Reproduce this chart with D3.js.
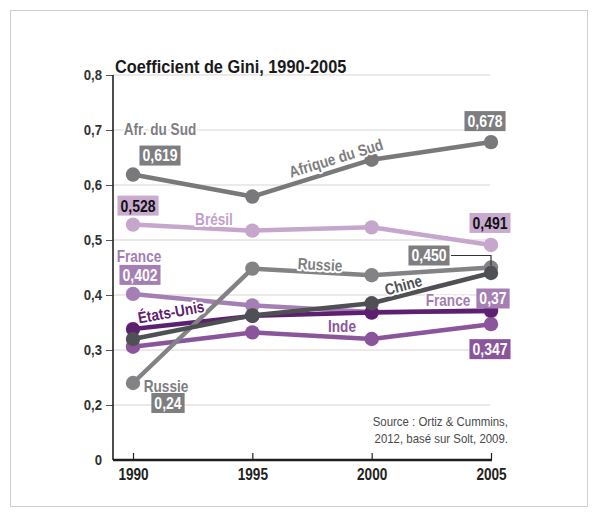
<!DOCTYPE html>
<html>
<head>
<meta charset="utf-8">
<script src="https://cdn.jsdelivr.net/npm/d3@7"></script>
<style>
  html, body { margin: 0; padding: 0; background: #fff; }
  svg { display: block; }
  text { font-family: 'Liberation Sans', Arial, Helvetica, sans-serif; }
</style>
</head>
<body>
<svg id="chart" width="597" height="515"></svg>
<script>
// Gini coefficient by country, 1990-2005
const years = [1990, 1995, 2000, 2005];
const afriqueDuSud = [0.619, 0.579, 0.646, 0.678];
const bresil = [0.528, 0.517, 0.523, 0.491];
const france = [0.402, 0.381, 0.369, 0.37];
const etatsUnis = [0.338, 0.362, 0.368, 0.372];
const inde = [0.306, 0.332, 0.320, 0.347];
const russie = [0.24, 0.448, 0.436, 0.450];
const chine = [0.320, 0.363, 0.385, 0.440];

// The vertical axis is broken: its lowest step is labelled 0
const yTickValues = [0.1, 0.2, 0.3, 0.4, 0.5, 0.6, 0.7, 0.8];
const yTickLabels = ["0", "0,2", "0,3", "0,4", "0,5", "0,6", "0,7", "0,8"];
const xTickLabels = ["1990", "1995", "2000", "2005"];

const svg = d3.select("#chart");

const x = d3.scaleLinear().domain([1990, 2005]).range([133, 491]);
const y = d3.scaleLinear().domain([0.1, 0.8]).range([460, 75]);
const axisLeft = 113;

// condensed look: Helvetica-like face squeezed horizontally
const SQ = 0.85;

const fmt = (v, digits) => d3.format(`.${digits}f`)(v).replace(".", ",");

// text helper: position, rotation and horizontal squeeze
function label(parent, str, px, py, opts = {}) {
  const t = parent.append("text")
    .attr("transform", `translate(${px},${py}) rotate(${opts.angle || 0}) scale(${opts.sq || SQ},1)`)
    .attr("text-anchor", opts.anchor || "middle")
    .attr("font-size", opts.size || 14)
    .attr("font-weight", opts.weight || "bold")
    .attr("fill", opts.fill || "#222")
    .text(str);
  if (opts.dy) t.attr("dy", opts.dy);
  if (opts.halo) {
    t.attr("stroke", "#fff").attr("stroke-width", 4).attr("paint-order", "stroke")
     .attr("stroke-linejoin", "round");
  }
  return t;
}

// outer frame
svg.append("rect")
  .attr("x", 10.5).attr("y", 10.5).attr("width", 577).attr("height", 496)
  .attr("fill", "none").attr("stroke", "#cfcfcf").attr("stroke-width", 1);

// gridlines
svg.append("g").selectAll("line")
  .data(yTickValues.slice(1))
  .join("line")
  .attr("x1", axisLeft).attr("x2", 490)
  .attr("y1", d => y(d)).attr("y2", d => y(d))
  .attr("stroke", "#ddd3d3").attr("stroke-width", 1.2);

// y axis
const yAxis = d3.axisLeft(y)
  .tickValues(yTickValues)
  .tickFormat((d, i) => yTickLabels[i])
  .tickSize(7)
  .tickPadding(4);
const gy = svg.append("g").attr("transform", `translate(${axisLeft},0)`).call(yAxis);
gy.select(".domain").remove();
gy.selectAll(".tick line").attr("stroke", "#555").attr("stroke-width", 1);
gy.select(".tick line").remove();
gy.selectAll(".tick text")
  .attr("font-size", 15.5).attr("fill", "#333").attr("font-weight", "bold")
  .attr("transform", `scale(${SQ},1)`)
  .attr("x", -11 / SQ)
  .style("font-family", "'Liberation Sans', Arial, sans-serif");
svg.append("line")
  .attr("x1", axisLeft).attr("x2", axisLeft)
  .attr("y1", y(0.8)).attr("y2", y(0.1))
  .attr("stroke", "#222").attr("stroke-width", 1.6);

// x axis
const xAxis = d3.axisBottom(x)
  .tickValues(years)
  .tickFormat((d, i) => xTickLabels[i])
  .tickSize(0)
  .tickPadding(9);
const gx = svg.append("g").attr("transform", `translate(0,${y(0.1)})`).call(xAxis);
gx.select(".domain").remove();
gx.selectAll(".tick text")
  .attr("font-size", 16).attr("fill", "#222").attr("font-weight", "bold")
  .attr("transform", `scale(${SQ},1)`)
  .style("font-family", "'Liberation Sans', Arial, sans-serif");
gx.selectAll(".tick").append("line")
  .attr("y1", 0).attr("y2", -7).attr("stroke", "#222").attr("stroke-width", 1.2);
svg.append("line")
  .attr("x1", axisLeft).attr("x2", x(2005) + 1)
  .attr("y1", y(0.1)).attr("y2", y(0.1))
  .attr("stroke", "#1e1e1e").attr("stroke-width", 2.6);

// title
label(svg, "Coefficient de Gini, 1990-2005", 115, 73, { anchor: "start", size: 19, sq: 0.86, fill: "#1a1a1a" });

// source
label(svg, "Source : Ortiz & Cummins,", 508, 426, { anchor: "end", size: 13, sq: 0.88, weight: "normal", fill: "#4a4a4a" });
label(svg, "2012, basé sur Solt, 2009.", 508, 443, { anchor: "end", size: 13, sq: 0.88, weight: "normal", fill: "#4a4a4a" });

// series
const series = [
  { name: "Brésil", values: bresil, color: "#c6a6cd" },
  { name: "France", values: france, color: "#a57fb4" },
  { name: "Inde", values: inde, color: "#8b559c" },
  { name: "États-Unis", values: etatsUnis, color: "#5d2070" },
  { name: "Afrique du Sud", values: afriqueDuSud, color: "#79797c" },
  { name: "Russie", values: russie, color: "#838386" },
  { name: "Chine", values: chine, color: "#4e5053" }
];

const line = d3.line().x((d, i) => x(years[i])).y(d => y(d));

const gSeries = svg.append("g");
series.forEach(s => {
  const g = gSeries.append("g");
  g.append("path")
    .attr("d", line(s.values))
    .attr("fill", "none").attr("stroke", s.color).attr("stroke-width", 4.5)
    .attr("stroke-linejoin", "round");
  g.selectAll("circle")
    .data(s.values)
    .join("circle")
    .attr("cx", (d, i) => x(years[i])).attr("cy", d => y(d))
    .attr("r", 7.2).attr("fill", s.color);
});

// series name labels, with a white halo
function nameLabel(text, cx, cy, color, angle = 0) {
  label(svg, text, cx, cy, { fill: color, angle, halo: true, dy: "0.35em", size: 16 });
}

// value boxes
function valueBox(value, digits, cx, cy, bg, fg) {
  const t = label(svg, fmt(value, digits), cx, cy, { fill: fg, dy: "0.36em", size: 16.5 });
  const w = t.node().getComputedTextLength() * SQ;
  svg.insert("rect", () => t.node())
    .attr("x", cx - w / 2 - 3).attr("y", cy - 10)
    .attr("width", w + 6).attr("height", 20)
    .attr("fill", bg);
}

const grey = "#7e7e81";

// Afrique du Sud
nameLabel("Afr. du Sud", x(1990) + 27, y(0.7) - 1, grey);
valueBox(afriqueDuSud[0], 3, x(1990) + 27, y(afriqueDuSud[0]) - 19, grey, "#fff");
nameLabel("Afrique du Sud", (x(1995) + x(2000)) / 2 + 24, (y(afriqueDuSud[1]) + y(afriqueDuSud[2])) / 2 - 20, grey, -17);
valueBox(afriqueDuSud[3], 3, x(2005) - 6, y(afriqueDuSud[3]) - 21, grey, "#fff");

// Brésil
valueBox(bresil[0], 3, x(1990) + 5, y(bresil[0]) - 19, "#c9abd0", "#111");
nameLabel("Brésil", x(1990) + 81, y(bresil[0]) - 5, "#c2a0c9");
valueBox(bresil[3], 3, x(2005) - 1, y(bresil[3]) - 22, "#c9abd0", "#111");

// France
nameLabel("France", x(1990) + 6, y(france[0]) - 38, "#a47cb2");
valueBox(france[0], 3, x(1990) + 7, y(france[0]) - 19, "#a57fb4", "#fff");
nameLabel("France", x(2005) - 43, y(france[3]) - 11, "#a47cb2");
valueBox(france[3], 2, x(2005) + 2, y(france[3]) - 13, "#a57fb4", "#fff");

// États-Unis
nameLabel("États-Unis", x(1990) + 38, y(etatsUnis[0]) - 17, "#5d2070", -10);

// Inde
nameLabel("Inde", (x(1995) + x(2000)) / 2 + 30, y(inde[2]) - 13, "#8b559c");
valueBox(inde[3], 3, x(2005) - 1, y(inde[3]) + 25, "#8b559c", "#fff");

// Russie
nameLabel("Russie", (x(1995) + x(2000)) / 2 + 8, y(russie[1]) - 4, grey, 3);
nameLabel("Russie", x(1990) + 33, y(russie[0]) + 3, grey);
valueBox(russie[0], 2, x(1990) + 35, y(russie[0]) + 20, grey, "#fff");

// 0,450 callout with leader line
valueBox(russie[3], 3, x(2005) - 62, y(russie[3]) - 12, grey, "#fff");
svg.append("path")
  .attr("d", `M${x(2005) - 40},${y(russie[3]) - 12}H${x(2005)}V${y(russie[3]) - 2}`)
  .attr("fill", "none").attr("stroke", "#333").attr("stroke-width", 1.2);

// Chine
nameLabel("Chine", (x(2000) + x(2005)) / 2 - 28, (y(chine[2]) + y(chine[3])) / 2 - 3, "#4e5053", -15);
</script>
</body>
</html>
